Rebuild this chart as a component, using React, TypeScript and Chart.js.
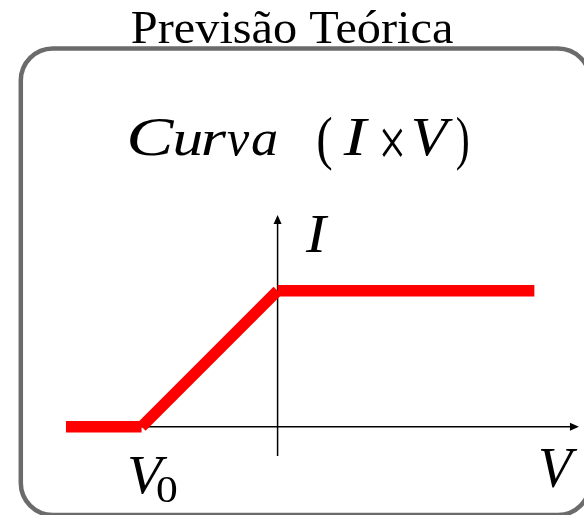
import React, { useEffect, useRef } from 'react';
import { Chart, registerables } from 'chart.js';

Chart.register(...registerables);

// Piecewise I x V characteristic (normalised units: V0 = -1, saturation current = 1)
const voltage = [-1.556, -1, 0, 1.888];
const current = [0, 0, 1, 1];
const xAxisSpan = [-1.556, 2.216];
const yAxisSpan = [-0.215, 1.557];
const V0 = -1;
const titleText = 'Previsão Teórica';
const subtitleGlyphs = ['C', 'u', 'r', 'v', 'a', '(', 'I', '×', 'V', ')'];
const subtitleItalic = [true, true, true, true, true, false, true, false, true, false];
const subtitleCenters = [152.5, 188.5, 215, 238.5, 264.5, 325, 356, 392.5, 433, 462.5];
const subtitleWidths = [45, 27, 24, 23, 25, 14, 27, 21, 40, 11];
const xLabel = 'V';
const yLabel = 'I';
const v0Label = ['V', '0'];

const SERIF = '"Liberation Serif", "Times New Roman", serif';

// draw text with its ink box centred on cx, optionally stretched to an ink width.
// If midY is given, the ink is centred vertically on it instead of using a baseline.
function drawInk(
  ctx: CanvasRenderingContext2D,
  text: string,
  font: string,
  cx: number,
  baseline: number,
  targetWidth?: number,
  maxScale = 1.35,
  midY?: number,
) {
  ctx.save();
  ctx.font = font;
  ctx.textAlign = 'left';
  ctx.textBaseline = 'alphabetic';
  const m = ctx.measureText(text);
  const left = m.actualBoundingBoxLeft;
  const right = m.actualBoundingBoxRight;
  const ink = left + right;
  let sx = 1;
  if (targetWidth && ink > 0) sx = Math.max(0.7, Math.min(maxScale, targetWidth / ink));
  let by = baseline;
  if (midY !== undefined) {
    by = midY + (m.actualBoundingBoxAscent - m.actualBoundingBoxDescent) / 2;
  }
  ctx.translate(cx, by);
  ctx.scale(sx, 1);
  ctx.fillText(text, -(right - left) / 2, 0);
  ctx.restore();
}

const overlay = {
  id: 'overlay',
  beforeDatasetsDraw(chart: any) {
    const ctx = chart.ctx as CanvasRenderingContext2D;
    const xs = chart.scales.x;
    const ys = chart.scales.y;
    ctx.save();
    // rounded frame
    ctx.strokeStyle = '#6b6b6b';
    ctx.lineWidth = 4.5;
    ctx.beginPath();
    (ctx as any).roundRect(20.8, 48.5, 590 - 20.8, 515 - 48.5, 32);
    ctx.stroke();

    // axes
    const x0 = xs.getPixelForValue(0);
    const y0 = ys.getPixelForValue(0);
    const xa = xs.getPixelForValue(xAxisSpan[0]);
    const xb = xs.getPixelForValue(xAxisSpan[1]);
    const ya = ys.getPixelForValue(yAxisSpan[0]);
    const yb = ys.getPixelForValue(yAxisSpan[1]);
    ctx.strokeStyle = '#000';
    ctx.fillStyle = '#000';
    ctx.lineWidth = 1.5;
    ctx.beginPath();
    ctx.moveTo(xa, y0);
    ctx.lineTo(xb - 8, y0);
    ctx.moveTo(x0, ya);
    ctx.lineTo(x0, yb + 8);
    ctx.stroke();
    // arrowheads
    ctx.beginPath();
    ctx.moveTo(xb, y0);
    ctx.lineTo(xb - 9, y0 - 4);
    ctx.lineTo(xb - 9, y0 + 4);
    ctx.closePath();
    ctx.fill();
    ctx.beginPath();
    ctx.moveTo(x0, yb);
    ctx.lineTo(x0 - 4, yb + 9);
    ctx.lineTo(x0 + 4, yb + 9);
    ctx.closePath();
    ctx.fill();
    ctx.restore();
  },
  afterDatasetsDraw(chart: any) {
    const ctx = chart.ctx as CanvasRenderingContext2D;
    const xs = chart.scales.x;
    const ys = chart.scales.y;
    ctx.save();
    ctx.fillStyle = '#000';

    // title
    drawInk(ctx, titleText, `46px ${SERIF}`, 292.4, 43.3, 321, 1.1);

    // subtitle "Curva (I × V)"
    subtitleGlyphs.forEach((g, i) => {
      const italic = subtitleItalic[i];
      const paren = g === '(' || g === ')';
      const times = g === '×';
      const upper = g === 'C' || g === 'I' || g === 'V';
      const size = paren ? 60 : upper ? 55 : times ? 70 : 50;
      const font = `${italic ? 'italic ' : ''}${size}px ${SERIF}`;
      drawInk(
        ctx,
        g,
        font,
        subtitleCenters[i],
        paren ? 158 : 155,
        subtitleWidths[i],
        1.3,
        times ? 142.5 : undefined,
      );
    });

    const x0 = xs.getPixelForValue(0);
    const y0 = ys.getPixelForValue(0);
    const xb = xs.getPixelForValue(xAxisSpan[1]);
    const yb = ys.getPixelForValue(yAxisSpan[1]);
    const xv0 = xs.getPixelForValue(V0);

    // axis labels
    drawInk(ctx, yLabel, `italic 55px ${SERIF}`, x0 + 39.4, yb + 36.7, 24, 1.3);
    drawInk(ctx, xLabel, `italic 57px ${SERIF}`, xb - 20, y0 + 60.3, 38, 1.2);
    drawInk(ctx, v0Label[0], `italic 54px ${SERIF}`, xv0 + 7, y0 + 66.3, 39, 1.2);
    drawInk(ctx, v0Label[1], `37px ${SERIF}`, xv0 + 25.5, y0 + 75.3, 20, 1.2);
    ctx.restore();
  },
};

export default function App() {
  const ref = useRef<HTMLCanvasElement>(null);
  useEffect(() => {
    if (!ref.current) return;
    const datasets = [] as any[];
    for (let i = 0; i < voltage.length - 1; i++) {
      datasets.push({
        data: [
          { x: voltage[i], y: current[i] },
          { x: voltage[i + 1], y: current[i + 1] },
        ],
        borderColor: '#ff0000',
        backgroundColor: '#ff0000',
        borderWidth: 11.5,
        borderCapStyle: 'butt',
        pointRadius: 0,
        tension: 0,
        fill: false,
      });
    }
    const chart = new Chart(ref.current, {
      type: 'line',
      data: { datasets },
      options: {
        animation: false,
        responsive: false,
        events: [],
        layout: { padding: 0 },
        plugins: { legend: { display: false }, title: { display: false }, tooltip: { enabled: false } },
        scales: {
          x: { type: 'linear', min: -2.041, max: 2.253, display: false },
          y: { type: 'linear', min: -0.6485, max: 3.138, display: false },
        },
      },
      plugins: [overlay],
    } as any);
    return () => chart.destroy();
  }, []);
  return (
    <div style={{ position: 'fixed', left: 0, top: 0, width: 584, height: 515, background: '#fff' }}>
      <canvas ref={ref} width={584} height={515} />
    </div>
  );
}
